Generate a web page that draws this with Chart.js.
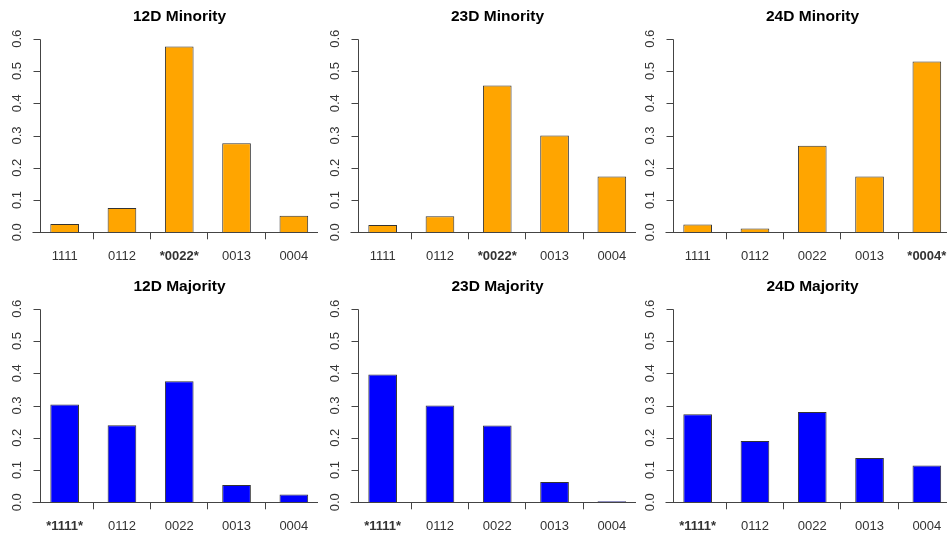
<!DOCTYPE html>
<html>
<head>
<meta charset="utf-8">
<script src="https://cdn.jsdelivr.net/npm/chart.js@4.4.0/dist/chart.umd.min.js"></script>
<style>
  html, body { margin: 0; padding: 0; background: #fff; overflow: hidden; width: 947px; height: 534px; }
  .panel { position: absolute; }
</style>
</head>
<body>
<div id="grid"></div>
<script>
// ── Data ────────────────────────────────────────────────
const categories = ['1111', '0112', '0022', '0013', '0004'];

const min12D = [0.026, 0.075, 0.576, 0.276, 0.051];
const min23D = [0.023, 0.050, 0.455, 0.300, 0.173];
const min24D = [0.024, 0.012, 0.268, 0.173, 0.529];
const maj12D = [0.303, 0.239, 0.375, 0.054, 0.024];
const maj23D = [0.396, 0.300, 0.238, 0.063, 0.003];
const maj24D = [0.273, 0.190, 0.280, 0.137, 0.114];

const yTicks = [0, 0.1, 0.2, 0.3, 0.4, 0.5, 0.6];
const yTickLabels = ['0.0', '0.1', '0.2', '0.3', '0.4', '0.5', '0.6'];

// ── Panels (axisX = page x of the y axis line) ──────────
const panels = [
  { title: '12D Minority', values: min12D, mode: '0022', color: '#FFA500', axisX: 40,    top: 0 },
  { title: '23D Minority', values: min23D, mode: '0022', color: '#FFA500', axisX: 358,   top: 0 },
  { title: '24D Minority', values: min24D, mode: '0004', color: '#FFA500', axisX: 672.7, top: 0 },
  { title: '12D Majority', values: maj12D, mode: '1111', color: '#0000FF', axisX: 40,    top: 270 },
  { title: '23D Majority', values: maj23D, mode: '1111', color: '#0000FF', axisX: 358,   top: 270 },
  { title: '24D Majority', values: maj24D, mode: '1111', color: '#0000FF', axisX: 672.7, top: 270 },
];

const FONT = '"Liberation Sans", Arial, sans-serif';
const W = 330, H = 264;

// R-style axes, baseline and title drawn on top of the chart
const rAxes = {
  id: 'rAxes',
  afterDraw(chart, args, opts) {
    const { ctx } = chart;
    const xs = chart.scales.x, ys = chart.scales.y;
    const step = xs.getPixelForValue(1) - xs.getPixelForValue(0);
    const ax = Math.round(xs.getPixelForValue(0) - 0.43 * step) + 0.5;
    const y0 = Math.round(ys.getPixelForValue(0)) + 0.5;

    ctx.save();
    ctx.strokeStyle = '#444';
    ctx.lineWidth = 1;
    ctx.beginPath();
    ctx.moveTo(ax, y0);
    ctx.lineTo(ax, Math.round(ys.getPixelForValue(yTicks[yTicks.length - 1])) + 0.5);
    yTicks.forEach(v => {
      const py = Math.round(ys.getPixelForValue(v)) + 0.5;
      ctx.moveTo(ax - 7, py);
      ctx.lineTo(ax, py);
    });
    ctx.moveTo(ax - 8, y0);
    ctx.lineTo(ax + 277.5, y0);
    ctx.stroke();

    ctx.fillStyle = '#333';
    ctx.font = '13px ' + FONT;
    ctx.textAlign = 'center';
    ctx.textBaseline = 'middle';
    yTicks.forEach((v, i) => {
      ctx.save();
      ctx.translate(ax - 23.5, ys.getPixelForValue(v));
      ctx.rotate(-Math.PI / 2);
      ctx.fillText(yTickLabels[i], 0, 0);
      ctx.restore();
    });

    ctx.fillStyle = '#000';
    ctx.font = 'bold 15.5px ' + FONT;
    ctx.fillText(opts.text, ax + 139, 17);
    ctx.restore();
  }
};

const grid = document.getElementById('grid');

panels.forEach(p => {
  const div = document.createElement('div');
  div.className = 'panel';
  div.style.left = (p.axisX - 40) + 'px';
  div.style.top = p.top + 'px';
  const canvas = document.createElement('canvas');
  canvas.width = W;
  canvas.height = H;
  div.appendChild(canvas);
  grid.appendChild(div);

  const labels = categories.map(c => c === p.mode ? '*' + c + '*' : c);
  const modeIdx = categories.indexOf(p.mode);

  new Chart(canvas, {
    type: 'bar',
    data: {
      labels,
      datasets: [{
        data: p.values,
        backgroundColor: p.color,
        borderColor: '#333',
        borderWidth: 1,
        borderSkipped: 'bottom',
        barPercentage: 0.5,
        categoryPercentage: 1,
      }]
    },
    options: {
      responsive: false,
      animation: false,
      layout: { padding: { left: 36, right: 7.5, top: 38.7, bottom: 1.7 } },
      plugins: {
        legend: { display: false },
        tooltip: { enabled: false },
        rAxes: { text: p.title },
      },
      scales: {
        x: {
          offset: true,
          afterFit: (scale) => { scale.height = 30; },
          border: { display: false },
          grid: {
            offset: true,
            drawOnChartArea: false,
            drawTicks: true,
            tickLength: 7,
            color: (c) => (c.type === 'tick' && c.index > 0) ? '#444' : 'rgba(0,0,0,0)',
          },
          ticks: {
            autoSkip: false,
            maxRotation: 0,
            padding: 9.5,
            color: '#333',
            font: (c) => ({ family: FONT, size: 13, weight: c.index === modeIdx ? 'bold' : 'normal' }),
          }
        },
        y: {
          display: false,
          min: 0,
          max: 0.6,
        }
      }
    },
    plugins: [rAxes]
  });
});
</script>
</body>
</html>
